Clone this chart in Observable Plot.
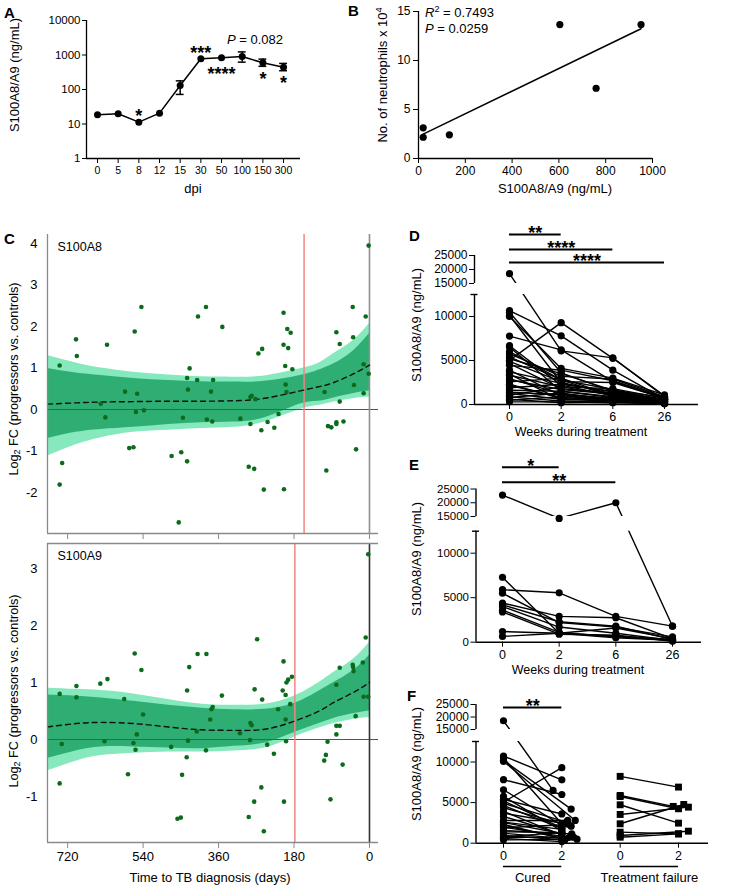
<!DOCTYPE html>
<html><head><meta charset="utf-8">
<script src="https://cdn.jsdelivr.net/npm/d3@7"></script>
<script src="https://cdn.jsdelivr.net/npm/@observablehq/plot@0.6"></script>
<style>
body{margin:0;background:#fff;}
#root{position:relative;width:736px;height:891px;overflow:hidden;font-family:"Liberation Sans",Arial,Helvetica,sans-serif;color:#000;background:#fff;}
.t{position:absolute;white-space:nowrap;line-height:1;}
</style></head><body><div id="root"></div>
<script>
// ---------------- DATA ----------------
// Panel A
const aDays = ["0","5","8","12","15","30","50","100","150","300"];
const aMean = [18.5, 19.8, 11.3, 20.6, 131, 776, 830, 905, 594, 443];
const aLow  = [null, null, null, null, 72, null, null, 620, 470, 350];
const aHigh = [null, null, null, null, 178, null, null, 1230, 760, 570];
const aStars = ["", "", "*", "", "", "***", "****", "", "*", "*"];
const aStarSide = ["", "", "above", "", "", "above", "below", "", "below", "below"];
// Panel B
const bConc = [20, 20, 132, 604, 759, 951];
const bNeut = [2.17, 3.13, 2.42, 13.67, 7.17, 13.67];
// Panel C – S100A8
const c8Day = [2,739,700,698,626,641,630,583,560,544,554,557,538,573,563,435,429,433,445,409,390,411,373,378,388,375,351,308,284,281,272,284,265,256,258,243,227,217,205,205,201,196,194,188,184,200,198,107,79,71,71,99,91,79,79,62,40,39,37,32,14,14,9,2,739,733,472,449,435,288,275,252,204,103,455];
const c8FC = [3.95,1.06,1.69,1.29,1.56,0.14,-0.19,0.43,1.88,2.47,0.38,-0.06,-0.02,-0.93,-0.91,0.76,0.99,0.48,-0.2,2.24,2.47,0.71,0.71,0.43,-0.24,-0.29,1.99,-0.22,0.30,0.33,0.25,-0.35,1.35,1.46,-0.5,-0.3,-0.44,-0.11,2.33,1.56,1.05,1.94,1.48,1.85,0.97,0.6,0.42,0.42,1.86,1.58,0.19,-0.4,-0.43,-0.31,-0.35,-0.29,2.47,1.74,0.59,-0.96,0.39,1.09,2.24,0.86,-1.81,-1.29,-1.12,-1.03,-1.25,-1.38,-1.43,-1.93,-1.92,-1.47,-2.72];
const c8BandDay = [768, 700, 640, 563, 480, 400, 324, 250, 165, 120, 85, 40, 0];
const c8Mean = [0.13, 0.16, 0.18, 0.19, 0.2, 0.2, 0.21, 0.27, 0.45, 0.55, 0.65, 0.85, 1.07];
const c8InL  = [-0.7, -0.55, -0.48, -0.43, -0.36, -0.32, -0.3, -0.2, 0.13, 0.2, 0.28, 0.38, 0.45];
const c8InU  = [0.99, 0.88, 0.82, 0.75, 0.7, 0.67, 0.66, 0.68, 0.82, 0.95, 1.1, 1.4, 1.83];
const c8OutL = [-1.12, -0.85, -0.68, -0.55, -0.5, -0.46, -0.43, -0.3, 0.0, 0.1, 0.18, 0.26, 0.3];
const c8OutU = [1.3, 1.12, 1.0, 0.9, 0.83, 0.79, 0.78, 0.81, 0.98, 1.12, 1.35, 1.65, 2.07];
// Panel C – S100A9
const c9Day = [3,699,642,625,560,544,435,430,410,389,268,274,205,198,194,185,71,40,39,38,16,9,79,207,739,699,734,739,632,585,576,563,558,555,540,473,458,450,447,436,433,412,390,380,377,374,352,309,288,285,284,281,275,256,258,252,244,228,218,200,200,204,199,189,108,104,100,93,79,79,71,64,33,14,3];
const c9FC = [3.25,0.94,0.98,1.06,1.51,1.22,0.86,1.27,1.5,1.5,1.76,0.88,1.37,1.0,1.05,1.1,1.26,1.31,1.27,1.2,1.35,1.79,0.96,0.86,0.8,0.74,-0.08,-0.77,-0.03,0.71,-0.61,-0.06,-0.18,0.09,0.44,-0.13,-1.39,-1.37,-0.62,-0.31,-0.02,0.14,-0.19,0.35,0.53,0.57,0.77,0.11,-1.36,-0.01,0.29,0.25,-1.09,0.7,-0.84,-1.61,-0.09,-0.25,0.53,0.78,0.35,-1.09,-0.03,0.62,-0.37,-0.27,-0.04,-1.05,0.09,0.24,0.24,-0.44,0.41,0.75,0.75];
const c9BandDay = [768, 700, 640, 563, 480, 400, 324, 250, 180, 120, 85, 40, 0];
const c9Mean = [0.22, 0.28, 0.3, 0.28, 0.22, 0.17, 0.16, 0.18, 0.32, 0.5, 0.65, 0.82, 1.0];
const c9InL  = [-0.33, -0.2, -0.13, -0.13, -0.15, -0.16, -0.12, -0.06, 0.12, 0.28, 0.37, 0.45, 0.5];
const c9InU  = [0.78, 0.76, 0.73, 0.67, 0.6, 0.55, 0.52, 0.53, 0.63, 0.85, 1.0, 1.2, 1.48];
const c9OutL = [-0.55, -0.38, -0.28, -0.24, -0.22, -0.22, -0.2, -0.15, 0.04, 0.2, 0.28, 0.35, 0.39];
const c9OutU = [0.9, 0.88, 0.86, 0.8, 0.7, 0.62, 0.6, 0.62, 0.76, 1.0, 1.18, 1.4, 1.7];
const cRedDay = [156, 178];
const cXTicks = [720, 540, 360, 180, 0];
// Panel D
const dWeeks = ["0", "2", "6", "26"];
const dW0  = [18500,10680,10490,10110,10000,7770,6680,6530,5770,5400,5020,4640,4450,3900,3700,3320,2940,2570,2190,1620,1245,1057,870,490,300,2800,4900,3450,6000,1400,800,5200,2300,600,1900];
const dW2  = [6100,7800,3600,2500,4100,6200,2200,1500,3200,2800,9300,1800,3900,1000,2400,2000,1200,3000,800,1500,600,2000,400,900,300,1700,2600,500,2800,1100,1300,3500,700,200,2300];
const dW6  = [5300,3900,1500,1200,3000,2600,1000,800,2900,1700,5250,1300,2700,600,1400,1800,700,1000,500,900,400,1100,300,600,200,1200,2500,800,900,700,500,1600,400,250,1500];
const dW26 = [900,600,400,300,1100,700,500,300,900,400,1000,600,800,200,500,700,300,400,200,300,200,500,100,300,100,600,700,400,500,300,200,800,100,100,600];
const dSig = [{from:0,to:1,label:"**"},{from:0,to:2,label:"****"},{from:0,to:3,label:"****"}];
// Panel E
const eW0  = [22800, 7300, 5900, 5500, 4400, 4200, 4000, 3600, 3400, 1200, 650];
const eW2  = [14300, 1000, 5550, 2200, 2900, 2300, 1700, 1100, 900, 1000, 1000];
const eW6  = [20000, 700, 2900, 1700, 2750, 1800, 1000, 600, 800, 1600, 500];
const eW26 = [1800, 300, 1800, 600, 400, 300, 200, 200, 100, 400, 200];
const eSig = [{from:0,to:1,label:"*"},{from:0,to:2,label:"**"}];
// Panel F
const fTicks = ["0", "2", "0", "2"];
const fGroups = ["Cured", "Treatment failure"];
const fCW0 = [18500,10740,10490,10200,10080,7820,6580,5760,5390,5060,4650,4360,3910,3700,3300,2800,2550,2220,1975,1560,1230,950,740,410,2600,1400,4900,5200,1900,2300,600,800];
const fCW2 = [6500,7800,2400,4200,2800,6000,2200,1500,3600,9300,1800,2100,1000,2400,1100,2800,1200,600,700,1150,600,400,740,490,1700,1300,2600,1900,2300,600,200,1300];
const fCJit = [-0.15,0,0,0.16,0.23,0,0,0,0,0,0,0.16,0,0.07,0,0.1,0,0,0.12,0.17,0,0.05,0.2,0.26,0,0,0.08,0,0.12,0,0,0];
const fTW0 = [8230, 5880, 5750, 4730, 3540, 2390, 1360, 950, 740];
const fTW2 = [6910, 4530, 4240, 2470, 4440, 4770, 1150, 1480, 1150];
const fTJit = [0, -0.09, 0, 0, 0.17, 0.09, 0, 0.17, 0];
const fSig = [{from:0,to:1,label:"**"}];

// ---------------- HELPERS ----------------
const FONT = '"Liberation Sans", Arial, Helvetica, sans-serif';
const root = document.getElementById("root");
const st = (fs) => ({fontFamily: FONT, fontSize: fs + "px", color: "#000", background: "transparent", overflow: "visible"});
function place(svg, left, top) {
  svg.style.position = "absolute"; svg.style.left = left + "px"; svg.style.top = top + "px";
  root.appendChild(svg);
}
function capText(html, left, capTop, size, weight) {
  const d = document.createElement("div"); d.className = "t";
  d.style.left = left + "px"; d.style.top = (capTop - 0.13 * size) + "px";
  d.style.fontSize = size + "px"; d.style.fontWeight = weight || "normal";
  d.innerHTML = html; root.appendChild(d);
}
function centerText(html, cx, cy, size, rotate) {
  const d = document.createElement("div"); d.className = "t";
  d.style.left = cx + "px"; d.style.top = cy + "px"; d.style.fontSize = size + "px";
  d.style.transform = "translate(-50%,-50%)" + (rotate ? " rotate(-90deg)" : "");
  d.innerHTML = html; root.appendChild(d);
}
const SUB = (s) => `<span style="font-size:0.7em;vertical-align:-0.3em;line-height:0">${s}</span>`;
const SUP = (s) => `<span style="font-size:0.7em;vertical-align:0.5em;line-height:0">${s}</span>`;

// ---------------- PANEL A ----------------
const aData = aDays.map((d, i) => ({i, v: aMean[i], lo: aLow[i], hi: aHigh[i], star: aStars[i], side: aStarSide[i]}));
const aErr = aData.filter(d => d.lo != null);
const aX = [-0.532, 9.82];
place(Plot.plot({
  width: 310, height: 200, marginLeft: 86, marginRight: 10, marginTop: 20, marginBottom: 42,
  style: st(11.5),
  x: {domain: aX}, y: {type: "log", domain: [1, 10000]},
  marks: [
    Plot.axisX({ticks: d3.range(aDays.length), tickFormat: i => aDays[i], tickSize: 5, tickPadding: 3, label: null, fontSize: 10.5}),
    Plot.axisY({ticks: [1, 10, 100, 1000, 10000], tickFormat: d => String(d), tickSize: 4, tickPadding: 2, label: null}),
    Plot.ruleX([aX[0]], {strokeWidth: 1.3}),
    Plot.ruleY([1], {strokeWidth: 1.3}),
    Plot.line(aData, {x: "i", y: "v", strokeWidth: 1.5}),
    Plot.ruleX(aErr, {x: "i", y1: "lo", y2: "hi", strokeWidth: 1.5}),
    Plot.ruleY(aErr, {y: "lo", x1: d => d.i - 0.19, x2: d => d.i + 0.19, strokeWidth: 1.5}),
    Plot.ruleY(aErr, {y: "hi", x1: d => d.i - 0.19, x2: d => d.i + 0.19, strokeWidth: 1.5}),
    Plot.dot(aData, {x: "i", y: "v", r: 3.5, fill: "black"}),
    Plot.text(aData.filter(d => d.side === "above"), {x: "i", y: "v", text: "star", dy: -5.5, fontSize: 18, fontWeight: "bold"}),
    Plot.text(aData.filter(d => d.side === "below"), {x: "i", y: "v", text: "star", dy: 16, fontSize: 18, fontWeight: "bold"})
  ]
}), 0, 0);
capText(`<i>P</i> = 0.082`, 227, 35, 13);
centerText("S100A8/A9 (ng/mL)", 14, 75, 13, true);
centerText("dpi", 193, 188, 13);
capText("A", 4, 6.5, 15, "bold");

// ---------------- PANEL B ----------------
const bData = bConc.map((c, i) => ({c, n: bNeut[i]}));
place(Plot.plot({
  width: 396, height: 200, marginLeft: 78, marginRight: 84, marginTop: 11, marginBottom: 42,
  style: st(12),
  x: {domain: [0, 1000]}, y: {domain: [0, 15]},
  marks: [
    Plot.axisX({ticks: [0, 200, 400, 600, 800, 1000], tickFormat: d => String(d), tickSize: 5, tickPadding: 3, label: null}),
    Plot.axisY({ticks: [0, 5, 10, 15], tickFormat: d => String(d), tickSize: 5, tickPadding: 3, label: null}),
    Plot.ruleX([0], {strokeWidth: 1.3}),
    Plot.ruleY([0], {strokeWidth: 1.3}),
    Plot.linearRegressionY(bData, {x: "c", y: "n", ci: 0, stroke: "black", strokeWidth: 1.5}),
    Plot.dot(bData, {x: "c", y: "n", r: 3.6, fill: "black"})
  ]
}), 340, 0);
capText(`<i>R</i>${SUP("2")} = 0.7493`, 425, 7.3, 13);
capText(`<i>P</i> = 0.0259`, 425, 24, 13);
centerText(`No. of neutrophils x 10${SUP("4")}`, 381.5, 75, 13, true);
centerText("S100A8/A9 (ng/mL)", 555, 188, 13);
capText("B", 348, 5, 15, "bold");

// ---------------- PANEL C ----------------
const LIGHT = "#86e8bd", DARK = "#2fae74", PTS = "#0b6b1b";
function bandRows(days, mean, inL, inU, outL, outU) {
  return days.map((day, i) => ({day, mean: mean[i], inL: inL[i], inU: inU[i], outL: outL[i], outU: outU[i]}));
}
function panelC(cfg) {
  const pts = cfg.days.map((day, i) => ({day, fc: cfg.fc[i]}));
  const xd = [768, -21.5];
  const marks = [
    Plot.areaY(cfg.band, {x: "day", y1: "outL", y2: "outU", fill: LIGHT, curve: "natural"}),
    Plot.areaY(cfg.band, {x: "day", y1: "inL", y2: "inU", fill: DARK, curve: "natural"}),
    Plot.ruleY([0], {stroke: "#555", strokeWidth: 1.2}),
    Plot.ruleX([cfg.red], {stroke: "#f08585", strokeWidth: 1.5}),
    Plot.ruleX([0], {stroke: cfg.zeroColor, strokeWidth: 1.6}),
    Plot.line(cfg.band, {x: "day", y: "mean", strokeDasharray: "5,4", curve: "natural", strokeWidth: 1.4, stroke: "#111"}),
    Plot.dot(pts, {x: "day", y: "fc", r: 2.3, fill: PTS}),
    Plot.ruleX([xd[0]], {stroke: "#8a8a8a", strokeWidth: 1.3}),
    Plot.ruleY([cfg.yd[0]], {stroke: "#8a8a8a", strokeWidth: 1.3}),
    Plot.axisX({ticks: cXTicks, tickFormat: cfg.xLabels ? (d => String(d)) : (() => ""), tickSize: 6, tickPadding: 3, stroke: "#8a8a8a", label: null}),
    Plot.axisY({ticks: cfg.yTicks, tickFormat: d => String(d), tickSize: 0, tickPadding: 10, label: null}),
    Plot.text([cfg.name], {frameAnchor: "top-left", dx: 10, dy: 8, textAnchor: "start", lineAnchor: "top", fontSize: 12.5})
  ];
  if (cfg.topBorder) marks.push(Plot.ruleY([cfg.yd[1]], {stroke: "#8a8a8a", strokeWidth: 1.3}));
  return Plot.plot({
    width: 400, height: cfg.h, marginLeft: 47, marginRight: 22, marginTop: cfg.mt, marginBottom: cfg.mb,
    style: st(13), x: {domain: xd}, y: {domain: cfg.yd}, marks
  });
}
place(panelC({
  days: c8Day, fc: c8FC, band: bandRows(c8BandDay, c8Mean, c8InL, c8InU, c8OutL, c8OutU),
  red: cRedDay[0], zeroColor: "#8f8f8f", yd: [-2.988, 4.217], yTicks: [-2, -1, 0, 1, 2, 3, 4],
  h: 316, mt: 8, mb: 9, name: "S100A8", xLabels: false, topBorder: false
}), 0, 226);
place(panelC({
  days: c9Day, fc: c9FC, band: bandRows(c9BandDay, c9Mean, c9InL, c9InU, c9OutL, c9OutU),
  red: cRedDay[1], zeroColor: "#333", yd: [-1.807, 3.439], yTicks: [-1, 0, 1, 2, 3],
  h: 330, mt: 5, mb: 26, name: "S100A9", xLabels: true, topBorder: true
}), 0, 538);
centerText(`Log${SUB("2")} FC (progressors vs. controls)`, 14, 379, 12.7, true);
centerText(`Log${SUB("2")} FC (progressors vs. controls)`, 14, 691, 12.7, true);
centerText("Time to TB diagnosis (days)", 210, 877, 13);
capText("C", 4, 233, 15, "bold");

// ---------------- PANELS D / E / F (broken y axis) ----------------
function brokenPanel(cfg) {
  const s = (cfg.y0 - cfg.y10k) / 10000;
  const lowTop = (cfg.y0 - cfg.yLowTop) / s;
  const t15 = (cfg.y0 - cfg.y15k) / s;
  const k = ((cfg.y15k - cfg.y25k) / 10000) / s;
  const T = v => v <= lowTop ? v : t15 + (v - 15000) * k;
  const t25 = T(25000);
  const xmin = (cfg.axisX - cfg.x0) / cfg.step;
  const xmax = (cfg.xEnd - cfg.x0) / cfg.step;
  const tickRaw = [0, 5000, 10000, 15000, 20000, 25000];
  const fmt = new Map(tickRaw.map(v => [T(v), String(v)]));
  const e = 3.5 / cfg.step;
  const bars = cfg.sig.map((d, j) => ({...d, y: t25 + cfg.barOff[j] / s, mid: (d.from + d.to) / 2}));
  const marks = [
    Plot.line(cfg.lines, {x: "x", y: d => T(d.v), z: "id", stroke: "black", strokeWidth: 1.4}),
    Plot.rect([0], {x1: xmin, x2: xmax, y1: lowTop, y2: t15, fill: "white"}),
    Plot.ruleX([xmin], {y1: 0, y2: lowTop, strokeWidth: 1.4}),
    Plot.ruleX([xmin], {y1: t15, y2: t25, strokeWidth: 1.4}),
    Plot.ruleY([lowTop], {x1: xmin - e, x2: xmin + e, strokeWidth: 1.4}),
    Plot.ruleY([0], {x1: xmin, x2: xmax, strokeWidth: 1.4}),
    Plot.axisY({ticks: tickRaw.map(T), tickFormat: d => fmt.get(d) ?? "", tickSize: 5, tickPadding: 2, label: null}),
    Plot.axisX({ticks: cfg.xLabels.map((_, i) => i), tickFormat: i => cfg.xLabels[i], tickSize: 5, tickPadding: 3, label: null, fontSize: 12.5}),
    Plot.dot(cfg.circles, {x: "x", y: d => T(d.v), r: 3.6, fill: "black"}),
    Plot.ruleY(bars, {y: "y", x1: "from", x2: "to", strokeWidth: 2}),
    Plot.text(bars, {x: "mid", y: "y", text: "label", dy: -1, fontSize: 18, fontWeight: "bold"})
  ];
  if (cfg.squares) marks.push(Plot.dot(cfg.squares, {x: "x", y: d => T(d.v), r: 3.9, symbol: "square", fill: "black"}));
  if (cfg.groups) {
    marks.push(Plot.ruleY(cfg.groups, {y: 0, x1: "from", x2: "to", dy: 23.3, strokeWidth: 1.4}));
    marks.push(Plot.text(cfg.groups, {x: d => (d.from + d.to) / 2, y: 0, text: "name", dy: 34.5, fontSize: 13}));
  }
  return Plot.plot({
    width: cfg.width, height: cfg.height,
    marginLeft: cfg.axisX - cfg.left, marginRight: cfg.left + cfg.width - cfg.xEnd,
    marginTop: cfg.y25k - cfg.top, marginBottom: cfg.top + cfg.height - cfg.y0,
    style: st(cfg.tickFont || 12), x: {domain: [xmin, xmax]}, y: {domain: [0, t25]}, marks
  });
}
function weeklyRows(cols) {
  const lines = [];
  cols[0].forEach((_, id) => cols.forEach((col, x) => lines.push({id, x, v: col[id]})));
  return lines;
}
// D
const dRows = weeklyRows([dW0, dW2, dW6, dW26]);
place(brokenPanel({
  left: 400, top: 215, width: 336, height: 230,
  axisX: 474, x0: 509, step: 51.67, xEnd: 698,
  y0: 404, y10k: 316, yLowTop: 294, y15k: 283, y25k: 255,
  lines: dRows, circles: dRows, xLabels: dWeeks, sig: dSig, barOff: [21, 6, -7]
}), 400, 215);
centerText("S100A8/A9 (ng/mL)", 416, 325, 13, true);
centerText("Weeks during treatment", 581, 432, 12.5);
capText("D", 409, 229.5, 15, "bold");
// E
const eRows = weeklyRows([eW0, eW2, eW6, eW26]);
place(brokenPanel({
  left: 400, top: 450, width: 336, height: 230,
  axisX: 475.5, x0: 502, step: 56.67, xEnd: 701,
  y0: 641.7, y10k: 552.7, yLowTop: 530.7, y15k: 516, y25k: 488.5,
  lines: eRows, circles: eRows, xLabels: dWeeks, sig: eSig, barOff: [21.8, 6.8], tickFont: 11.5
}), 400, 450);
centerText("S100A8/A9 (ng/mL)", 416, 559, 13, true);
centerText("Weeks during treatment", 578, 670, 12.5);
capText("E", 409, 459, 15, "bold");
// F
const fCRows = [], fTRows = [];
fCW0.forEach((v, id) => { fCRows.push({id: "c" + id, x: 0, v}); fCRows.push({id: "c" + id, x: 1 + fCJit[id], v: fCW2[id]}); });
fTW0.forEach((v, id) => { fTRows.push({id: "t" + id, x: 2, v}); fTRows.push({id: "t" + id, x: 3 + fTJit[id], v: fTW2[id]}); });
place(brokenPanel({
  left: 400, top: 680, width: 336, height: 211,
  axisX: 475.5, x0: 503, step: 58.33, xEnd: 708,
  y0: 842.7, y10k: 761.5, yLowTop: 741, y15k: 729, y25k: 704,
  lines: fCRows.concat(fTRows), circles: fCRows, squares: fTRows, xLabels: fTicks, sig: fSig, barOff: [-3],
  groups: [{from: 0, to: 1, name: fGroups[0]}, {from: 2, to: 3, name: fGroups[1]}]
}), 400, 680);
centerText("S100A8/A9 (ng/mL)", 416, 764, 13, true);
capText("F", 407, 690, 15, "bold");
</script>
</body></html>
